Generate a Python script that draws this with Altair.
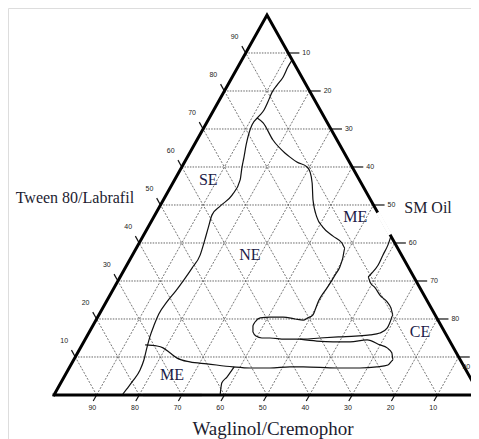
import altair as alt
import pandas as pd

# ---- axis tick labels (ternary) ----
levels = [10, 20, 30, 40, 50, 60, 70, 80, 90]          # height levels, bottom to top
left_labels = ["10", "20", "30", "40", "50", "60", "70", "80", "90"]
right_labels = ["90", "80", "70", "60", "50", "40", "30", "20", "10"]
bottom_labels = ["90", "80", "70", "60", "50", "40", "30", "20", "10"]  # left to right

# ---- phase boundaries (x = % along base, y = % of height) ----
top_x = [55.9, 54.9, 53.8, 52.4, 51.2, 50.2, 49.3, 48.4, 47.7]
top_y = [88.2, 86.3, 83.7, 81.6, 79.7, 77.1, 75.0, 73.7, 72.9]

se_x = [47.7, 46.5, 45.8, 45.1, 44.6, 44.1, 43.7, 41.8, 39.0, 37.1, 36.2, 35.4, 34.3,
        32.4, 30.5, 28.6, 26.5, 24.6, 23.5, 22.5, 21.8, 21.1, 20.2, 18.5, 17.1, 16.0]
se_y = [72.9, 71.1, 69.0, 65.8, 62.6, 59.7, 56.6, 52.6, 49.7, 47.4, 44.0, 40.8, 36.8,
        33.4, 30.3, 27.4, 24.5, 21.3, 18.4, 15.3, 12.4, 9.2, 6.6, 3.7, 1.6, 0.0]

me_x = [47.7, 49.1, 51.4, 54.2, 55.4, 57.0, 59.4, 60.1, 60.6, 60.8, 61.7, 63.1, 65.5,
        67.6, 68.3, 67.8, 67.1, 66.0, 65.3, 64.1, 62.9, 62.0, 61.3, 60.8, 59.6, 58.5,
        56.6, 53.8, 50.7, 48.4, 47.2, 46.7, 46.7, 47.4, 48.8, 50.7, 54.2, 58.5, 62.4,
        67.1, 70.7, 74.2, 76.5, 78.2, 78.9, 79.6, 79.1, 78.2, 76.5, 75.4, 74.2, 73.7,
        74.6, 76.1, 77.2, 78.4, 79.1]
me_y = [72.9, 71.6, 67.1, 63.7, 62.6, 61.3, 60.0, 58.7, 55.8, 51.3, 46.8, 44.2, 41.8,
        40.0, 38.7, 36.1, 33.7, 31.6, 30.3, 28.2, 26.3, 24.5, 22.4, 21.1, 20.3, 19.7,
        20.0, 20.5, 20.5, 20.3, 19.2, 18.2, 16.6, 15.5, 15.0, 15.0, 14.7, 14.7, 15.0,
        15.3, 15.5, 15.8, 16.3, 17.6, 19.2, 21.1, 22.9, 24.5, 26.3, 28.2, 29.7, 31.1,
        32.1, 34.2, 36.8, 39.5, 41.8]

low_x = [21.4, 24.2, 25.6, 27.2, 28.9, 31.9, 35.9, 42.0, 46.0, 50.7, 55.4, 58.5, 66.4,
         71.8, 75.8, 78.4, 79.6, 79.3, 78.2, 76.5, 73.5, 69.5, 65.5, 61.7, 57.7]
low_y = [13.2, 12.9, 12.4, 11.1, 9.7, 8.7, 8.2, 7.4, 7.1, 7.1, 7.4, 7.4, 7.1,
         7.1, 7.4, 7.9, 9.2, 11.1, 12.4, 13.2, 14.5, 14.0, 14.0, 14.2, 14.7]

foot_x = [39.0, 39.4, 40.6, 41.8, 42.3]
foot_y = [0.0, 3.2, 4.7, 6.6, 7.4]

region_names = ["SE", "NE", "ME", "ME", "CE"]
region_x = [36.2, 46.0, 70.7, 27.7, 85.9]
region_y = [56.6, 36.8, 46.8, 5.3, 16.6]

axis_titles = ["Tween 80/Labrafil", "SM Oil", "Waglinol/Cremophor"]
axis_title_x = [4.9, 87.8, 51.4]
axis_title_y = [51.8, 49.2, -8.9]

# ---- scales ----
XD = [-10.8, 97.89]
YD = [-11.58, 101.84]


def X(f="x"):
    return alt.X(f"{f}:Q", scale=alt.Scale(domain=XD, nice=False, zero=False), axis=None)


def Y(f="y"):
    return alt.Y(f"{f}:Q", scale=alt.Scale(domain=YD, nice=False, zero=False), axis=None)


# grid
hrows, srows = [], []
for L in levels:
    hrows.append(dict(x=L / 2, y=L, x2=100 - L / 2, y2=L))
    srows.append(dict(x=L, y=0, x2=50 + L / 2, y2=100 - L))
    srows.append(dict(x=L, y=0, x2=L / 2, y2=L))
hgrid = pd.DataFrame(hrows)
sgrid = pd.DataFrame(srows)

hg = alt.Chart(hgrid).mark_rule(color="#555", strokeWidth=0.9, strokeDash=[1.5, 1.2]).encode(
    x=X(), y=Y(), x2="x2", y2="y2")
sg = alt.Chart(sgrid).mark_rule(color="#666", strokeWidth=0.9, strokeDash=[2, 1.5]).encode(
    x=X(), y=Y(), x2="x2", y2="y2")

# ticks
trows = []
for L in levels:
    trows.append(dict(x=100 - L / 2, y=L, x2=100 - L / 2 + 2.6, y2=L))
    trows.append(dict(x=L / 2, y=L, x2=L / 2 - 0.9, y2=L + 1.8))
    trows.append(dict(x=L, y=0, x2=L - 0.8, y2=-1.6))
ticks = alt.Chart(pd.DataFrame(trows)).mark_rule(color="#111", strokeWidth=1.2).encode(
    x=X(), y=Y(), x2="x2", y2="y2")

# tick labels
lab_rows = []
for L, a, b, c in zip(levels, left_labels, right_labels, bottom_labels):
    lab_rows.append(dict(x=L / 2 - 2.6, y=L + 4.2, t=a, side="c"))
    rx, ry, side = 100 - L / 2 + 3.3, L, "l"
    if rx > XD[1] - 2.0:          # keep the last label inside the picture
        rx, ry, side = XD[1] - 0.2, L - 2.6, "r"
    lab_rows.append(dict(x=rx, y=ry, t=b, side=side))
    lab_rows.append(dict(x=L - 1.0, y=-3.5, t=c, side="c"))
labdf = pd.DataFrame(lab_rows)
tl_c = alt.Chart(labdf[labdf.side == "c"]).mark_text(
    font="Liberation Sans", fontSize=7, color="#222", baseline="middle", align="center").encode(
    x=X(), y=Y(), text="t:N")
tl_l = alt.Chart(labdf[labdf.side == "l"]).mark_text(
    font="Liberation Sans", fontSize=7, color="#222", baseline="middle", align="left").encode(
    x=X(), y=Y(), text="t:N")
tl_r = alt.Chart(labdf[labdf.side == "r"]).mark_text(
    font="Liberation Sans", fontSize=7, color="#222", baseline="middle", align="right").encode(
    x=X(), y=Y(), text="t:N")

# triangle border
tri = pd.DataFrame(dict(x=[0, 50, 100, 0], y=[0, 100, 0, 0], o=[0, 1, 2, 3]))
border = alt.Chart(tri).mark_line(color="black", strokeWidth=3, strokeJoin="miter",
                                  strokeCap="square").encode(x=X(), y=Y(), order="o:Q")

# gaps on the outline
gaps = pd.DataFrame([dict(x=20.9, y=0, x2=34.7, y2=0, c="gray"),
                     dict(x=76.0, y=48.0, x2=78.9, y2=42.2, c="white")])
gap_g = alt.Chart(gaps[gaps.c == "gray"]).mark_rule(color="#c4c4c4", strokeWidth=3).encode(
    x=X(), y=Y(), x2="x2", y2="y2")
gap_w = alt.Chart(gaps[gaps.c == "white"]).mark_rule(color="white", strokeWidth=4).encode(
    x=X(), y=Y(), x2="x2", y2="y2")

# curves
crows = []
for name, xs, ys in [("top", top_x, top_y), ("se", se_x, se_y), ("me", me_x, me_y),
                     ("low", low_x, low_y), ("foot", foot_x, foot_y)]:
    for i, (a, b) in enumerate(zip(xs, ys)):
        crows.append(dict(x=a, y=b, c=name, o=i))
curves = alt.Chart(pd.DataFrame(crows)).mark_line(color="#111", strokeWidth=1.2,
                                                  interpolate="monotone").encode(
    x=X(), y=Y(), detail="c:N", order="o:Q")

# region labels
reg = alt.Chart(pd.DataFrame(dict(x=region_x, y=region_y, t=region_names))).mark_text(
    font="Liberation Serif", fontSize=16, color="#1c1c48", baseline="middle", align="center").encode(
    x=X(), y=Y(), text="t:N")

tit = pd.DataFrame(dict(x=axis_title_x, y=axis_title_y, t=axis_titles))
tit_a = alt.Chart(tit.iloc[:2]).mark_text(
    font="Liberation Serif", fontSize=16, color="#1c1c30", baseline="middle", align="center").encode(
    x=X(), y=Y(), text="t:N")
tit_b = alt.Chart(tit.iloc[2:]).mark_text(
    font="Liberation Serif", fontSize=19, color="#1c1c30", baseline="middle", align="center").encode(
    x=X(), y=Y(), text="t:N")

chart = alt.layer(hg, sg, curves, ticks, gap_g, border, gap_w, tl_c, tl_l, tl_r, reg, tit_a, tit_b).properties(
    width=463, height=431, padding=0, autosize=alt.AutoSizeParams(type="none")
).configure_view(stroke=None).configure(background="white")

chart.save("out.html", embed_options={"renderer": "svg", "actions": False})
